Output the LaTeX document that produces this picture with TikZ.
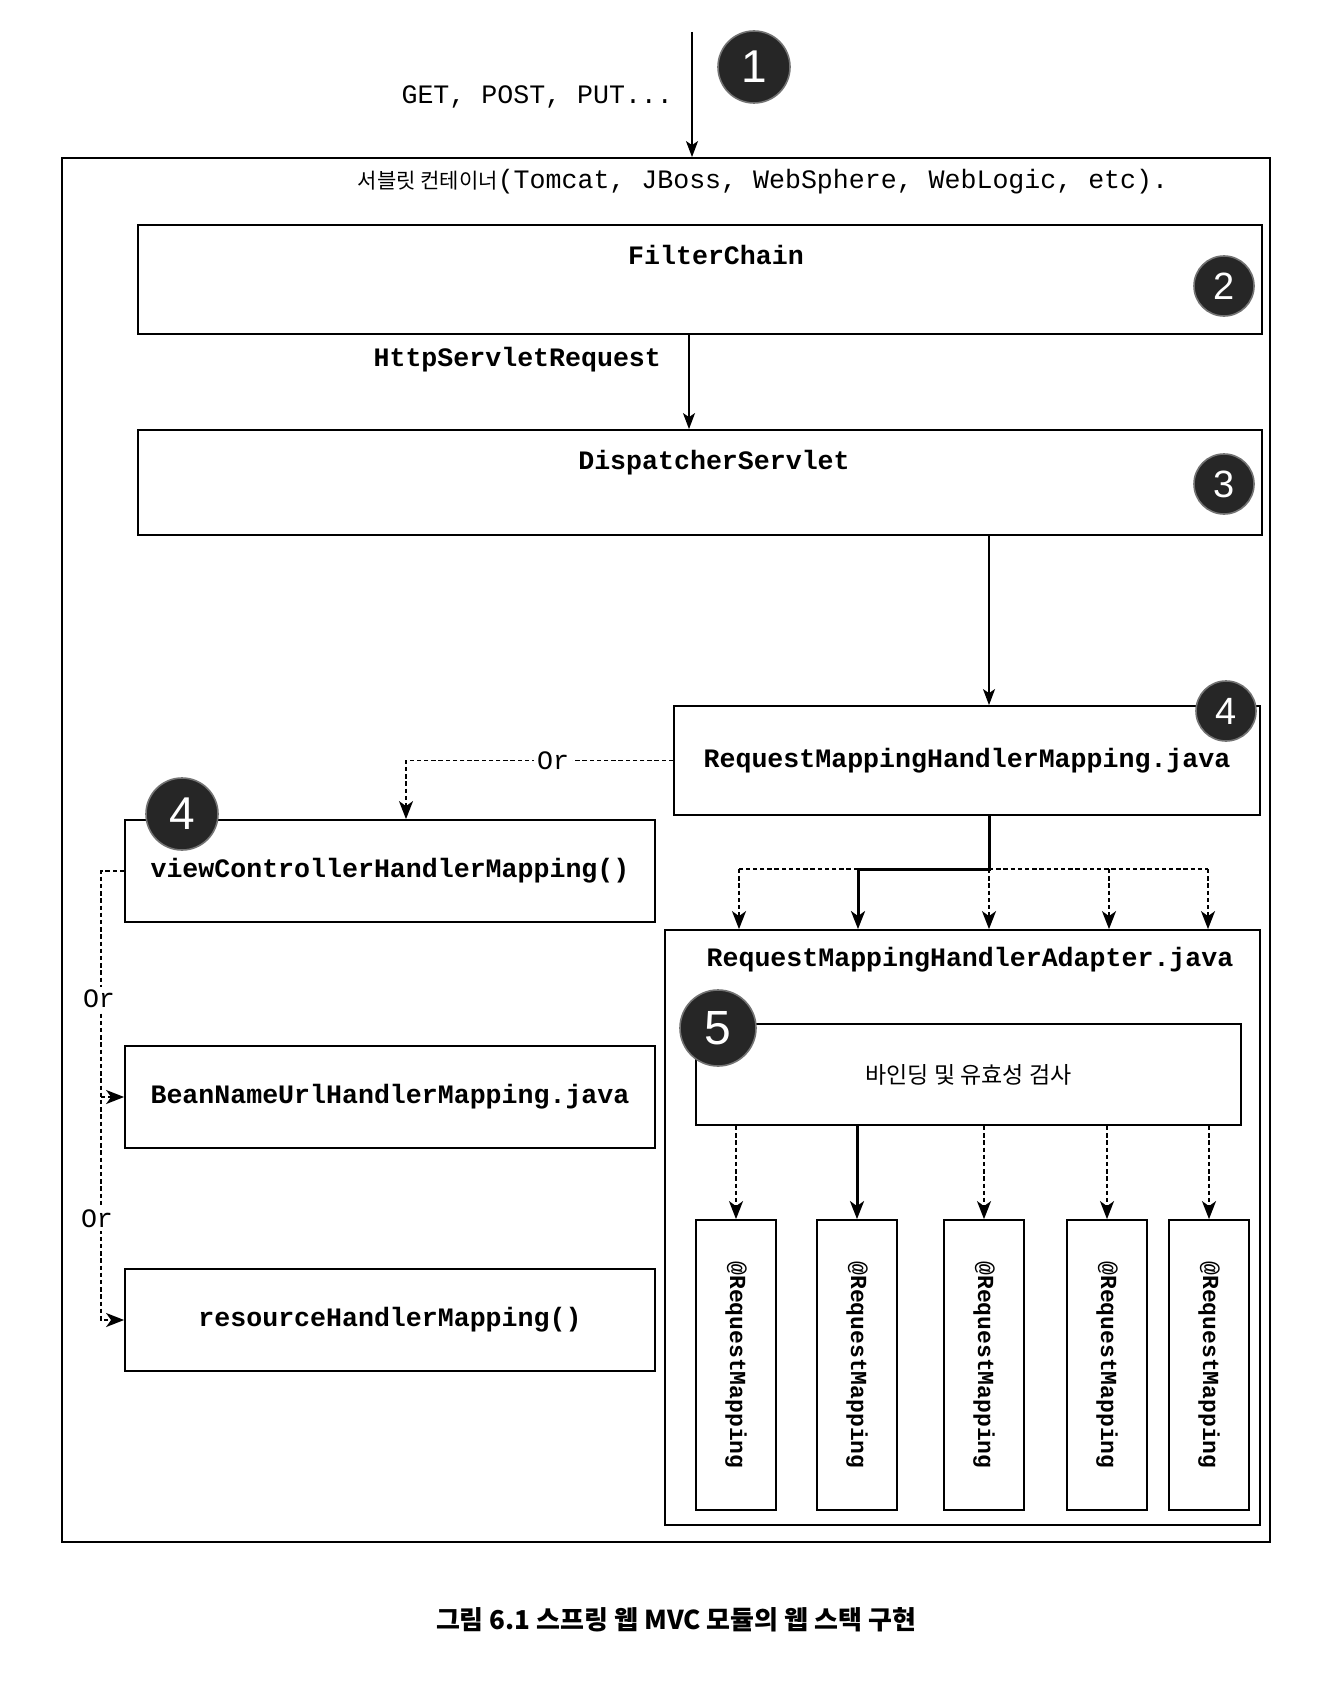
\documentclass[tikz,border=0pt]{standalone}
\usepackage{fontspec}
\setmainfont{Liberation Serif}
\setmonofont{Liberation Mono}
\newfontfamily\kr{Noto Sans CJK KR}
\newfontfamily\numfont{Liberation Sans}
\usetikzlibrary{arrows.meta,calc}
\begin{document}
\begin{tikzpicture}[x=0.5pt,y=-0.5pt,
  box/.style={draw, line width=0.9pt, inner sep=0pt},
  mono/.style={font=\ttfamily\bfseries\fontsize{13.3}{15}\selectfont},
  monol/.style={font=\ttfamily\fontsize{13.3}{15}\selectfont},
  num/.style={circle, fill=black!85, draw=black!55, line width=0.8pt, text=white, inner sep=0pt},
  numbig/.style={num, minimum size=36pt, font=\numfont\fontsize{23}{23}\selectfont},
  numsmall/.style={num, minimum size=30pt, font=\numfont\fontsize{19}{19}\selectfont},
  arr/.style={line width=0.8pt, -{Stealth[length=8pt,width=6pt,inset=2pt]}},
  dot/.style={line width=0.9pt, dash pattern=on 2.2pt off 1.4pt},
  tip/.style={-{Stealth[length=9pt,width=7pt,inset=2.5pt,sep=0pt]}},
  heavy/.style={line width=1.5pt},
  orlbl/.style={monol, fill=white, inner sep=1.5pt}
]
\fill[white] (0,0) rectangle (1336,1696);
\useasboundingbox (0,0) rectangle (1336,1696);

% servlet container
\node[box, minimum width=604pt, minimum height=692pt] (cont) at (666,850) {};
\node (contlbl) at (763,182) {{\kr\fontsize{10.5}{12}\selectfont 서블릿 컨테이너}{\ttfamily\fontsize{13.3}{15}\selectfont (Tomcat, JBoss, WebSphere, WebLogic, etc).}};

% incoming request
\coordinate (in) at (692,32);
\node[monol, anchor=east] (get) at (680,97) {GET, POST, PUT...};
\node[numbig] (n1) at (754,67) {1};
\draw[arr] (in) -- (in |- cont.north);

% FilterChain
\node[box, minimum width=562pt, minimum height=54.5pt] (fc) at (700,279.5) {};
\node[mono] (fct) at (716,255) {FilterChain};
\node[numsmall] (n2) at (1224,286) {2};

% DispatcherServlet
\node[box, minimum width=562pt, minimum height=52.5pt] (ds) at (700,482.5) {};
\node[mono] (dst) at (714,463) {DispatcherServlet};
\node[numsmall] (n3) at (1224,484) {3};
\draw[arr] ([xshift=-5.5pt]fc.south) -- ([xshift=-5.5pt]ds.north);
\node[mono, anchor=east] (hsr) at (668,360) {HttpServletRequest};

% RequestMappingHandlerMapping
\coordinate (spine) at (989,0);
\node[box, mono, minimum width=293pt, minimum height=54.5pt] (rm) at (967,760.5) {RequestMappingHandlerMapping.java};
\node[numsmall] (n4a) at (1226,711) {4};
\draw[arr] (ds.south -| spine) -- (rm.north -| spine);

% left handler mappings
\node[box, mono, minimum width=265pt, minimum height=51pt] (vc) at (390,871) {viewControllerHandlerMapping()};
\node[box, mono, minimum width=265pt, minimum height=51pt] (bn) at (390,1097) {BeanNameUrlHandlerMapping.java};
\node[box, mono, minimum width=265pt, minimum height=51pt] (rs) at (390,1320) {resourceHandlerMapping()};
\node[numbig] (n4b) at (182,814) {4};

% "Or" from RequestMappingHandlerMapping
\coordinate (ox) at (406,0);
\draw[dot, tip] (rm.west) -- (rm.west -| ox) -- (vc.north -| ox);
\node[orlbl] (or1) at (553,760.5) {Or};

% left "Or" chain
\coordinate (lx) at (101,0);
\draw[dot, tip] (vc.west) -- (vc.west -| lx) -- (rs.west -| lx) -- (rs.west);
\draw[dot, tip] (bn.west -| lx) -- (bn.west);
\node[orlbl] (or2) at (99,999) {Or};
\node[orlbl] (or3) at (97,1219) {Or};

% RequestMappingHandlerAdapter
\node[box, minimum width=297.5pt, minimum height=297.5pt] (ad) at (962.5,1227.5) {};
\node[mono] (adt) at (970,960) {RequestMappingHandlerAdapter.java};

% fork from mapping to adapter
\coordinate (fk) at (989,869);
\coordinate (fl) at (739,869);
\coordinate (fs) at (858,869);
\coordinate (fr1) at (1109,869);
\coordinate (fr2) at (1208,869);
\draw[dot] (fs) -- (fl);
\draw[dot] (fk) -- (fr2);
\draw[dot, tip] (fl) -- (fl |- ad.north);
\draw[dot, tip] (fk) -- (fk |- ad.north);
\draw[dot, tip] (fr1) -- (fr1 |- ad.north);
\draw[dot, tip] (fr2) -- (fr2 |- ad.north);
\draw[heavy] (rm.south -| fk) -- (fk) -- (fs);
\draw[heavy, tip] (fs) -- (fs |- ad.north);

% binding and validation
\node[box, minimum width=272.5pt, minimum height=50.5pt, font=\kr\fontsize{11.5}{13}\selectfont] (bd) at (968.5,1074.5) {바인딩 및 유효성 검사};
\node[num, minimum size=38pt, font=\numfont\fontsize{24}{24}\selectfont] (n5) at (718,1028) {5};

% @RequestMapping boxes
\foreach \i/\x in {1/736,2/857,3/984,4/1107,5/1209} {
  \node[box, minimum width=40pt, minimum height=145pt] (rq\i) at (\x,1365) {};
  \node[rotate=-90, font=\ttfamily\bfseries\fontsize{11.5}{13}\selectfont] (rqt\i) at (\x,1365) {@RequestMapping};
}
\foreach \i in {1,3,4,5} {
  \draw[dot, tip] (rq\i.north |- bd.south) -- (rq\i.north);
}
\draw[heavy, tip] (rq2.north |- bd.south) -- (rq2.north);

% caption
\node[font=\kr\bfseries\fontsize{13}{15}\selectfont] (cap) at (676,1620) {그림 6.1 스프링 웹 MVC 모듈의 웹 스택 구현};
\end{tikzpicture}
\end{document}
